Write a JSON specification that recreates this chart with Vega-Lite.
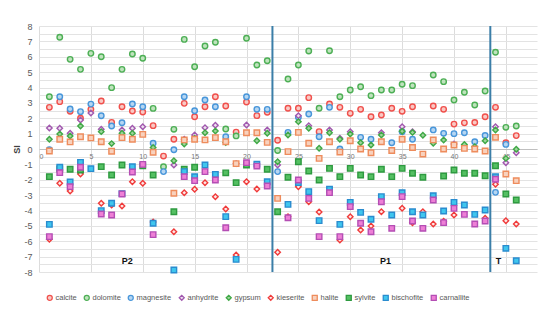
{
"$schema": "https://vega.github.io/schema/vega-lite/v6.json",
"width": 498, "height": 246,
"autosize": "none",
"padding": {"left": 39, "top": 26, "right": 13, "bottom": 51},
"background": "white",
"config": {"view": {"stroke": null}, "font": "Liberation Sans"},
"datasets": {
"si": [
{"s":1,"m":"calcite","v":2.71},{"s":2,"m":"calcite","v":3.08},{"s":3,"m":"calcite","v":2.45},{"s":4,"m":"calcite","v":2.0},{"s":5,"m":"calcite","v":2.58},{"s":6,"m":"calcite","v":3.12},{"s":7,"m":"calcite","v":1.73},{"s":8,"m":"calcite","v":2.75},{"s":9,"m":"calcite","v":2.47},{"s":10,"m":"calcite","v":2.41},{"s":11,"m":"calcite","v":1.52},{"s":12,"m":"calcite","v":-0.46},{"s":13,"m":"calcite","v":0.63},{"s":14,"m":"calcite","v":2.97},{"s":15,"m":"calcite","v":2.1},{"s":16,"m":"calcite","v":2.75},{"s":17,"m":"calcite","v":3.4},{"s":18,"m":"calcite","v":2.8},{"s":19,"m":"calcite","v":1.1},{"s":20,"m":"calcite","v":3.06},{"s":21,"m":"calcite","v":2.17},{"s":22,"m":"calcite","v":2.39},{"s":23,"m":"calcite","v":0.57},{"s":24,"m":"calcite","v":2.65},{"s":25,"m":"calcite","v":2.65},{"s":26,"m":"calcite","v":3.34},{"s":27,"m":"calcite","v":1.13},{"s":28,"m":"calcite","v":2.93},{"s":29,"m":"calcite","v":2.71},{"s":30,"m":"calcite","v":2.32},{"s":31,"m":"calcite","v":2.58},{"s":32,"m":"calcite","v":2.1},{"s":33,"m":"calcite","v":2.21},{"s":34,"m":"calcite","v":2.65},{"s":35,"m":"calcite","v":2.45},{"s":36,"m":"calcite","v":2.75},{"s":38,"m":"calcite","v":2.8},{"s":39,"m":"calcite","v":2.58},{"s":40,"m":"calcite","v":1.62},{"s":41,"m":"calcite","v":1.7},{"s":42,"m":"calcite","v":1.72},{"s":43,"m":"calcite","v":2.1},{"s":44,"m":"calcite","v":2.71},{"s":45,"m":"calcite","v":0.41},{"s":46,"m":"calcite","v":0.87},
{"s":1,"m":"dolomite","v":3.4},{"s":2,"m":"dolomite","v":7.27},{"s":3,"m":"dolomite","v":5.83},{"s":4,"m":"dolomite","v":5.18},{"s":5,"m":"dolomite","v":6.22},{"s":6,"m":"dolomite","v":6.0},{"s":7,"m":"dolomite","v":3.99},{"s":8,"m":"dolomite","v":5.18},{"s":9,"m":"dolomite","v":6.18},{"s":10,"m":"dolomite","v":5.9},{"s":11,"m":"dolomite","v":2.64},{"s":12,"m":"dolomite","v":-1.15},{"s":13,"m":"dolomite","v":1.28},{"s":14,"m":"dolomite","v":7.13},{"s":15,"m":"dolomite","v":5.35},{"s":16,"m":"dolomite","v":6.7},{"s":17,"m":"dolomite","v":6.94},{"s":18,"m":"dolomite","v":1.3},{"s":19,"m":"dolomite","v":0.85},{"s":20,"m":"dolomite","v":7.2},{"s":21,"m":"dolomite","v":5.46},{"s":22,"m":"dolomite","v":5.74},{"s":23,"m":"dolomite","v":-0.1},{"s":24,"m":"dolomite","v":4.55},{"s":25,"m":"dolomite","v":5.46},{"s":26,"m":"dolomite","v":6.37},{"s":27,"m":"dolomite","v":2.65},{"s":28,"m":"dolomite","v":6.39},{"s":29,"m":"dolomite","v":3.4},{"s":30,"m":"dolomite","v":3.84},{"s":31,"m":"dolomite","v":4.05},{"s":32,"m":"dolomite","v":3.47},{"s":33,"m":"dolomite","v":3.84},{"s":34,"m":"dolomite","v":3.84},{"s":35,"m":"dolomite","v":4.21},{"s":36,"m":"dolomite","v":4.12},{"s":38,"m":"dolomite","v":4.81},{"s":39,"m":"dolomite","v":4.38},{"s":40,"m":"dolomite","v":3.19},{"s":41,"m":"dolomite","v":3.69},{"s":42,"m":"dolomite","v":2.86},{"s":43,"m":"dolomite","v":3.77},{"s":44,"m":"dolomite","v":6.29},{"s":45,"m":"dolomite","v":1.41},{"s":46,"m":"dolomite","v":1.5},
{"s":1,"m":"magnesite","v":-0.05},{"s":2,"m":"magnesite","v":3.4},{"s":3,"m":"magnesite","v":2.6},{"s":4,"m":"magnesite","v":2.43},{"s":5,"m":"magnesite","v":2.92},{"s":6,"m":"magnesite","v":2.16},{"s":7,"m":"magnesite","v":1.5},{"s":8,"m":"magnesite","v":1.71},{"s":9,"m":"magnesite","v":2.93},{"s":10,"m":"magnesite","v":2.75},{"s":11,"m":"magnesite","v":0.37},{"s":12,"m":"magnesite","v":-1.47},{"s":13,"m":"magnesite","v":-0.05},{"s":14,"m":"magnesite","v":3.4},{"s":15,"m":"magnesite","v":2.49},{"s":16,"m":"magnesite","v":3.19},{"s":17,"m":"magnesite","v":2.75},{"s":18,"m":"magnesite","v":0.8},{"s":20,"m":"magnesite","v":3.4},{"s":21,"m":"magnesite","v":2.58},{"s":22,"m":"magnesite","v":2.58},{"s":23,"m":"magnesite","v":-1.47},{"s":24,"m":"magnesite","v":1.08},{"s":25,"m":"magnesite","v":2.06},{"s":26,"m":"magnesite","v":2.28},{"s":27,"m":"magnesite","v":0.8},{"s":28,"m":"magnesite","v":2.71},{"s":29,"m":"magnesite","v":0.0},{"s":31,"m":"magnesite","v":0.76},{"s":32,"m":"magnesite","v":0.63},{"s":34,"m":"magnesite","v":0.41},{"s":35,"m":"magnesite","v":1.13},{"s":36,"m":"magnesite","v":0.63},{"s":38,"m":"magnesite","v":1.24},{"s":39,"m":"magnesite","v":1.02},{"s":40,"m":"magnesite","v":1.0},{"s":41,"m":"magnesite","v":1.06},{"s":42,"m":"magnesite","v":0.47},{"s":43,"m":"magnesite","v":0.88},{"s":44,"m":"magnesite","v":-2.82},{"s":45,"m":"magnesite","v":0.3},
{"s":1,"m":"anhydrite","v":1.37},{"s":2,"m":"anhydrite","v":1.35},{"s":3,"m":"anhydrite","v":1.02},{"s":4,"m":"anhydrite","v":1.89},{"s":5,"m":"anhydrite","v":2.34},{"s":6,"m":"anhydrite","v":1.28},{"s":8,"m":"anhydrite","v":1.24},{"s":9,"m":"anhydrite","v":1.35},{"s":10,"m":"anhydrite","v":1.45},{"s":13,"m":"anhydrite","v":-1.04},{"s":14,"m":"anhydrite","v":0.63},{"s":15,"m":"anhydrite","v":0.91},{"s":16,"m":"anhydrite","v":1.39},{"s":17,"m":"anhydrite","v":1.54},{"s":19,"m":"anhydrite","v":-0.95},{"s":20,"m":"anhydrite","v":1.56},{"s":22,"m":"anhydrite","v":1.24},{"s":23,"m":"anhydrite","v":-1.04},{"s":25,"m":"anhydrite","v":2.17},{"s":26,"m":"anhydrite","v":1.52},{"s":28,"m":"anhydrite","v":1.24},{"s":29,"m":"anhydrite","v":0.7},{"s":30,"m":"anhydrite","v":1.13},{"s":33,"m":"anhydrite","v":1.06},{"s":35,"m":"anhydrite","v":1.45},{"s":36,"m":"anhydrite","v":1.13},{"s":40,"m":"anhydrite","v":0.33},{"s":44,"m":"anhydrite","v":1.45},{"s":45,"m":"anhydrite","v":-0.89},{"s":46,"m":"anhydrite","v":-0.24},
{"s":1,"m":"gypsum","v":0.63},{"s":2,"m":"gypsum","v":0.98},{"s":3,"m":"gypsum","v":0.85},{"s":4,"m":"gypsum","v":1.5},{"s":6,"m":"gypsum","v":1.13},{"s":7,"m":"gypsum","v":0.35},{"s":8,"m":"gypsum","v":1.02},{"s":9,"m":"gypsum","v":1.02},{"s":11,"m":"gypsum","v":0.1},{"s":13,"m":"gypsum","v":-0.76},{"s":14,"m":"gypsum","v":0.33},{"s":15,"m":"gypsum","v":0.7},{"s":16,"m":"gypsum","v":1.06},{"s":17,"m":"gypsum","v":1.17},{"s":18,"m":"gypsum","v":0.42},{"s":21,"m":"gypsum","v":0.54},{"s":22,"m":"gypsum","v":1.02},{"s":23,"m":"gypsum","v":-0.83},{"s":24,"m":"gypsum","v":0.91},{"s":25,"m":"gypsum","v":1.78},{"s":26,"m":"gypsum","v":1.35},{"s":27,"m":"gypsum","v":0.05},{"s":28,"m":"gypsum","v":1.06},{"s":29,"m":"gypsum","v":0.63},{"s":30,"m":"gypsum","v":0.98},{"s":31,"m":"gypsum","v":0.41},{"s":32,"m":"gypsum","v":0.26},{"s":33,"m":"gypsum","v":0.91},{"s":35,"m":"gypsum","v":1.15},{"s":36,"m":"gypsum","v":1.08},{"s":37,"m":"gypsum","v":0.9},{"s":38,"m":"gypsum","v":0.37},{"s":39,"m":"gypsum","v":0.59},{"s":41,"m":"gypsum","v":0.3},{"s":42,"m":"gypsum","v":0.15},{"s":43,"m":"gypsum","v":0.54},{"s":44,"m":"gypsum","v":1.24},{"s":45,"m":"gypsum","v":-0.61},{"s":46,"m":"gypsum","v":-0.02},
{"s":1,"m":"kieserite","v":-5.87},{"s":2,"m":"kieserite","v":-2.23},{"s":3,"m":"kieserite","v":-2.73},{"s":4,"m":"kieserite","v":-1.63},{"s":6,"m":"kieserite","v":-3.53},{"s":7,"m":"kieserite","v":-3.65},{"s":8,"m":"kieserite","v":-3.71},{"s":9,"m":"kieserite","v":-2.13},{"s":10,"m":"kieserite","v":-2.23},{"s":11,"m":"kieserite","v":-4.75},{"s":13,"m":"kieserite","v":-5.38},{"s":14,"m":"kieserite","v":-2.84},{"s":15,"m":"kieserite","v":-2.62},{"s":16,"m":"kieserite","v":-2.19},{"s":17,"m":"kieserite","v":-3.1},{"s":18,"m":"kieserite","v":-3.9},{"s":19,"m":"kieserite","v":-6.9},{"s":20,"m":"kieserite","v":-2.13},{"s":21,"m":"kieserite","v":-2.6},{"s":23,"m":"kieserite","v":-6.72},{"s":24,"m":"kieserite","v":-4.4},{"s":25,"m":"kieserite","v":-2.45},{"s":26,"m":"kieserite","v":-3.43},{"s":27,"m":"kieserite","v":-4.1},{"s":29,"m":"kieserite","v":-5.92},{"s":30,"m":"kieserite","v":-4.4},{"s":31,"m":"kieserite","v":-5.27},{"s":32,"m":"kieserite","v":-5.01},{"s":33,"m":"kieserite","v":-4.08},{"s":35,"m":"kieserite","v":-3.86},{"s":36,"m":"kieserite","v":-4.79},{"s":37,"m":"kieserite","v":-4.08},{"s":38,"m":"kieserite","v":-4.88},{"s":39,"m":"kieserite","v":-4.7},{"s":40,"m":"kieserite","v":-4.29},{"s":43,"m":"kieserite","v":-4.51},{"s":44,"m":"kieserite","v":-2.3},{"s":45,"m":"kieserite","v":-4.66},{"s":46,"m":"kieserite","v":-4.88},
{"s":1,"m":"halite","v":-0.13},{"s":2,"m":"halite","v":0.63},{"s":3,"m":"halite","v":0.46},{"s":4,"m":"halite","v":0.8},{"s":5,"m":"halite","v":0.72},{"s":6,"m":"halite","v":0.47},{"s":7,"m":"halite","v":-0.15},{"s":8,"m":"halite","v":0.74},{"s":9,"m":"halite","v":0.63},{"s":10,"m":"halite","v":0.95},{"s":11,"m":"halite","v":-0.21},{"s":13,"m":"halite","v":-2.88},{"s":14,"m":"halite","v":0.59},{"s":15,"m":"halite","v":0.63},{"s":16,"m":"halite","v":0.59},{"s":17,"m":"halite","v":0.74},{"s":18,"m":"halite","v":0.47},{"s":19,"m":"halite","v":-0.95},{"s":20,"m":"halite","v":1.06},{"s":21,"m":"halite","v":1.06},{"s":22,"m":"halite","v":0.43},{"s":23,"m":"halite","v":-3.21},{"s":24,"m":"halite","v":-0.17},{"s":25,"m":"halite","v":1.08},{"s":26,"m":"halite","v":0.37},{"s":27,"m":"halite","v":-0.61},{"s":28,"m":"halite","v":0.47},{"s":29,"m":"halite","v":-0.2},{"s":30,"m":"halite","v":0.54},{"s":31,"m":"halite","v":0.0},{"s":32,"m":"halite","v":-0.24},{"s":33,"m":"halite","v":0.47},{"s":34,"m":"halite","v":-0.1},{"s":35,"m":"halite","v":0.63},{"s":36,"m":"halite","v":0.1},{"s":37,"m":"halite","v":-0.33},{"s":38,"m":"halite","v":0.59},{"s":39,"m":"halite","v":0.0},{"s":40,"m":"halite","v":0.26},{"s":41,"m":"halite","v":0.04},{"s":42,"m":"halite","v":0.0},{"s":43,"m":"halite","v":-0.13},{"s":44,"m":"halite","v":0.76},{"s":45,"m":"halite","v":-1.63},{"s":46,"m":"halite","v":-2.06},
{"s":1,"m":"sylvite","v":-1.8},{"s":2,"m":"sylvite","v":-1.3},{"s":3,"m":"sylvite","v":-1.32},{"s":4,"m":"sylvite","v":-1.37},{"s":6,"m":"sylvite","v":-1.15},{"s":7,"m":"sylvite","v":-1.69},{"s":8,"m":"sylvite","v":-1.04},{"s":10,"m":"sylvite","v":-1.1},{"s":11,"m":"sylvite","v":-1.69},{"s":13,"m":"sylvite","v":-4.08},{"s":14,"m":"sylvite","v":-1.32},{"s":15,"m":"sylvite","v":-1.19},{"s":18,"m":"sylvite","v":-1.55},{"s":19,"m":"sylvite","v":-2.19},{"s":20,"m":"sylvite","v":-1.04},{"s":22,"m":"sylvite","v":-1.32},{"s":23,"m":"sylvite","v":-4.08},{"s":24,"m":"sylvite","v":-1.84},{"s":25,"m":"sylvite","v":-0.83},{"s":26,"m":"sylvite","v":-1.43},{"s":27,"m":"sylvite","v":-2.02},{"s":28,"m":"sylvite","v":-1.26},{"s":29,"m":"sylvite","v":-1.8},{"s":30,"m":"sylvite","v":-1.26},{"s":31,"m":"sylvite","v":-1.69},{"s":32,"m":"sylvite","v":-1.8},{"s":33,"m":"sylvite","v":-1.32},{"s":34,"m":"sylvite","v":-1.8},{"s":35,"m":"sylvite","v":-1.26},{"s":36,"m":"sylvite","v":-1.58},{"s":37,"m":"sylvite","v":-1.84},{"s":39,"m":"sylvite","v":-1.76},{"s":40,"m":"sylvite","v":-1.37},{"s":41,"m":"sylvite","v":-1.58},{"s":42,"m":"sylvite","v":-1.58},{"s":43,"m":"sylvite","v":-1.74},{"s":44,"m":"sylvite","v":-1.09},{"s":45,"m":"sylvite","v":-2.93},{"s":46,"m":"sylvite","v":-3.32},
{"s":1,"m":"bischofite","v":-4.9},{"s":2,"m":"bischofite","v":-1.19},{"s":3,"m":"bischofite","v":-2.15},{"s":4,"m":"bischofite","v":-0.87},{"s":5,"m":"bischofite","v":-1.28},{"s":6,"m":"bischofite","v":-4.01},{"s":7,"m":"bischofite","v":-3.53},{"s":8,"m":"bischofite","v":-2.9},{"s":9,"m":"bischofite","v":-1.15},{"s":11,"m":"bischofite","v":-4.83},{"s":13,"m":"bischofite","v":-7.87},{"s":14,"m":"bischofite","v":-1.47},{"s":15,"m":"bischofite","v":-1.8},{"s":16,"m":"bischofite","v":-1.04},{"s":17,"m":"bischofite","v":-1.65},{"s":18,"m":"bischofite","v":-4.4},{"s":19,"m":"bischofite","v":-7.18},{"s":21,"m":"bischofite","v":-0.98},{"s":22,"m":"bischofite","v":-2.13},{"s":24,"m":"bischofite","v":-3.6},{"s":25,"m":"bischofite","v":-2.19},{"s":26,"m":"bischofite","v":-2.77},{"s":27,"m":"bischofite","v":-4.66},{"s":28,"m":"bischofite","v":-2.62},{"s":29,"m":"bischofite","v":-4.9},{"s":30,"m":"bischofite","v":-3.47},{"s":31,"m":"bischofite","v":-4.12},{"s":32,"m":"bischofite","v":-4.57},{"s":33,"m":"bischofite","v":-3.1},{"s":34,"m":"bischofite","v":-4.29},{"s":35,"m":"bischofite","v":-2.84},{"s":36,"m":"bischofite","v":-4.08},{"s":37,"m":"bischofite","v":-4.29},{"s":38,"m":"bischofite","v":-3.04},{"s":39,"m":"bischofite","v":-4.03},{"s":40,"m":"bischofite","v":-3.47},{"s":41,"m":"bischofite","v":-3.64},{"s":42,"m":"bischofite","v":-4.25},{"s":43,"m":"bischofite","v":-3.97},{"s":44,"m":"bischofite","v":-1.8},{"s":45,"m":"bischofite","v":-6.46},{"s":46,"m":"bischofite","v":-7.27},
{"s":1,"m":"carnallite","v":-5.7},{"s":2,"m":"carnallite","v":-1.54},{"s":3,"m":"carnallite","v":-2.45},{"s":4,"m":"carnallite","v":-1.19},{"s":6,"m":"carnallite","v":-4.23},{"s":7,"m":"carnallite","v":-4.29},{"s":8,"m":"carnallite","v":-2.93},{"s":9,"m":"carnallite","v":-1.5},{"s":10,"m":"carnallite","v":-1.0},{"s":11,"m":"carnallite","v":-5.57},{"s":14,"m":"carnallite","v":-1.8},{"s":15,"m":"carnallite","v":-2.06},{"s":16,"m":"carnallite","v":-1.47},{"s":17,"m":"carnallite","v":-2.02},{"s":18,"m":"carnallite","v":-5.12},{"s":20,"m":"carnallite","v":-0.89},{"s":21,"m":"carnallite","v":-1.11},{"s":22,"m":"carnallite","v":-2.41},{"s":24,"m":"carnallite","v":-4.47},{"s":25,"m":"carnallite","v":-2.02},{"s":26,"m":"carnallite","v":-3.21},{"s":27,"m":"carnallite","v":-5.7},{"s":28,"m":"carnallite","v":-2.84},{"s":29,"m":"carnallite","v":-5.7},{"s":30,"m":"carnallite","v":-3.75},{"s":31,"m":"carnallite","v":-4.83},{"s":32,"m":"carnallite","v":-5.38},{"s":33,"m":"carnallite","v":-3.43},{"s":34,"m":"carnallite","v":-5.16},{"s":35,"m":"carnallite","v":-3.1},{"s":36,"m":"carnallite","v":-4.68},{"s":37,"m":"carnallite","v":-5.16},{"s":38,"m":"carnallite","v":-3.32},{"s":39,"m":"carnallite","v":-4.79},{"s":40,"m":"carnallite","v":-3.86},{"s":41,"m":"carnallite","v":-4.25},{"s":42,"m":"carnallite","v":-4.88},{"s":43,"m":"carnallite","v":-4.68},{"s":44,"m":"carnallite","v":-1.97}
],
"dividers": [{"s": 22.5}, {"s": 43.5}],
"zones": [{"s": 8.5, "v": -7.3, "t": "P2"}, {"s": 33.4, "v": -7.3, "t": "P1"}, {"s": 44.3, "v": -7.3, "t": "T"}]
},
"resolve": {"axis": {"x": "independent"}},
"layer": [
{
"data": {"name": "dividers"},
"mark": {"type": "rule", "color": "#3B7EA8", "strokeWidth": 2},
"encoding": {
"x": {"field": "s", "type": "quantitative", "scale": {"domain": [0, 48], "nice": false},
"axis": {"orient": "top", "values": [0,5,10,15,20,25,30,35,40,45], "grid": true, "gridColor": "#DCDCDC", "gridWidth": 1, "labels": false, "ticks": false, "domain": false, "title": null}}
}
},
{
"data": {"name": "si"},
"mark": {"type": "point", "filled": true, "size": 30, "strokeWidth": 1.4, "opacity": 1},
"encoding": {
"x": {"field": "s", "type": "quantitative", "scale": {"domain": [0, 48], "nice": false},
"axis": {"orient": "bottom", "offset": -123, "values": [0,5,10,15,20,25,30,35,40,45], "grid": false, "ticks": false, "domain": true, "domainColor": "#BFBFBF", "labelFontSize": 7, "labelColor": "#777777", "labelPadding": 3, "labelOverlap": false, "title": null}},
"y": {"field": "v", "type": "quantitative", "scale": {"domain": [-8, 8], "nice": false},
"axis": {"values": [-8,-7.5,-7,-6.5,-6,-5.5,-5,-4.5,-4,-3.5,-3,-2.5,-2,-1.5,-1,-0.5,0,0.5,1,1.5,2,2.5,3,3.5,4,4.5,5,5.5,6,6.5,7,7.5,8],
"labelExpr": "datum.value % 1 == 0 ? replace(format(datum.value, 'd'), '\u2212', '-') : ''", "labelOverlap": false, "grid": true, "gridColor": "#E3E3E3", "domain": false, "ticks": false,
"labelFontSize": 9, "labelColor": "#595959", "labelPadding": 7, "title": "SI", "titleFontSize": 9, "titleFontWeight": "bold", "titleColor": "#404040", "titlePadding": 2}},
"stroke": {"field": "m", "type": "nominal",
"scale": {"domain": ["calcite","dolomite","magnesite","anhydrite","gypsum","kieserite","halite","sylvite","bischofite","carnallite"],
"range": ["#F0504C","#4DAF55","#4896DA","#A158AE","#3FA845","#F03A3A","#EE8C5C","#2E9A40","#2A8CCF","#B44EB4"]},
"legend": {"orient": "none", "legendX": 7, "legendY": 268, "direction": "horizontal", "columns": 10, "title": null, "labelFontSize": 7.5, "labelColor": "#595959", "symbolSize": 25, "symbolStrokeWidth": 1.3, "labelOffset": 2, "columnPadding": 4}},
"fill": {"field": "m", "type": "nominal",
"scale": {"domain": ["calcite","dolomite","magnesite","anhydrite","gypsum","kieserite","halite","sylvite","bischofite","carnallite"],
"range": ["#F9C9C4","#BFE3BD","#B6D6F2","#EFE1F1","#9ED59C","#FDE8E6","#F8D1BD","#54C062","#3FC6EE","#EE7FD6"]}},
"shape": {"field": "m", "type": "nominal",
"scale": {"domain": ["calcite","dolomite","magnesite","anhydrite","gypsum","kieserite","halite","sylvite","bischofite","carnallite"],
"range": ["circle","circle","circle","diamond","diamond","diamond","square","square","square","square"]}}
}
},
{
"data": {"name": "zones"},
"mark": {"type": "text", "fontWeight": "bold", "fontSize": 9, "color": "#111111"},
"encoding": {
"x": {"field": "s", "type": "quantitative", "scale": {"domain": [0, 48], "nice": false}, "axis": null},
"y": {"field": "v", "type": "quantitative", "scale": {"domain": [-8, 8], "nice": false},
"axis": {"values": [-8,-7.5,-7,-6.5,-6,-5.5,-5,-4.5,-4,-3.5,-3,-2.5,-2,-1.5,-1,-0.5,0,0.5,1,1.5,2,2.5,3,3.5,4,4.5,5,5.5,6,6.5,7,7.5,8],
"labelExpr": "datum.value % 1 == 0 ? replace(format(datum.value, 'd'), '\u2212', '-') : ''", "labelOverlap": false, "grid": true, "gridColor": "#E3E3E3", "domain": false, "ticks": false,
"labelFontSize": 9, "labelColor": "#595959", "labelPadding": 7, "title": "SI", "titleFontSize": 9, "titleFontWeight": "bold", "titleColor": "#404040", "titlePadding": 2}},
"text": {"field": "t"}
}
}
]
}
